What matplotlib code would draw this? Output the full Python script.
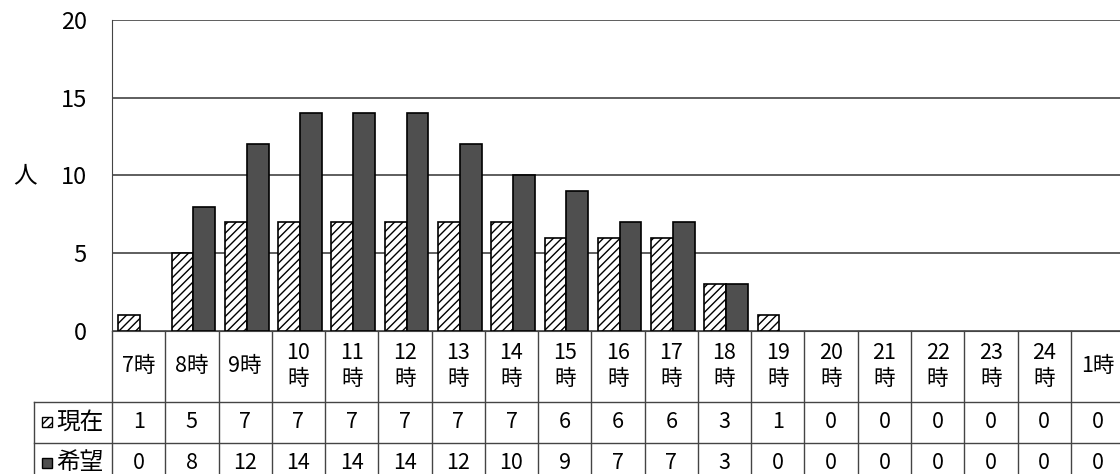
import numpy as np
import matplotlib
matplotlib.use("Agg")
import matplotlib.pyplot as plt
from matplotlib.patches import Rectangle

plt.rcParams['font.family'] = ['Noto Sans CJK JP', 'DejaVu Sans']

# data
hours = ['7時', '8時', '9時', '10\n時', '11\n時', '12\n時', '13\n時', '14\n時', '15\n時',
         '16\n時', '17\n時', '18\n時', '19\n時', '20\n時', '21\n時', '22\n時', '23\n時',
         '24\n時', '1時']
genzai = [1, 5, 7, 7, 7, 7, 7, 7, 6, 6, 6, 3, 1, 0, 0, 0, 0, 0, 0]
kibou = [0, 8, 12, 14, 14, 14, 12, 10, 9, 7, 7, 3, 0, 0, 0, 0, 0, 0, 0]
series_names = ['現在', '希望']
yticks = [0, 5, 10, 15, 20]

fig = plt.figure(figsize=(11.2, 4.74), dpi=100)
ax = fig.add_axes([0.1, 0.3017, 0.9036, 0.6561])

x = np.arange(len(hours))
w = 0.41
shift = 0.03

# zero-height bars get no edge, so nothing shows on the baseline
edges_g = ['black' if v > 0 else 'none' for v in genzai]
edges_k = ['black' if v > 0 else 'none' for v in kibou]
ax.bar(x - w / 2 + shift, genzai, width=w, facecolor='white', edgecolor=edges_g,
       hatch='////', linewidth=1.2, zorder=3)
ax.bar(x + w / 2 + shift, kibou, width=w, facecolor='#4f4f4f', edgecolor=edges_k,
       linewidth=1.2, zorder=3)

ax.set_xlim(-0.5, len(hours) - 0.5)
ax.set_ylim(0, 20)
ax.set_yticks(yticks)
ax.set_xticks([])
ax.yaxis.grid(True, color='#333333', linewidth=1.1)
ax.set_axisbelow(True)
ax.tick_params(axis='y', length=0, pad=18, labelsize=17)

for side in ['top', 'right']:
    ax.spines[side].set_visible(False)
ax.spines['left'].set_color('#444444')
ax.spines['bottom'].set_color('#444444')

ax.set_ylabel('人', rotation=0, fontsize=17, va='center', ha='center')
ax.yaxis.set_label_coords(-0.086, 0.498)

# data table under the plot
blend = ax.get_xaxis_transform()
y_head = -0.228
y_row1 = -0.360
y_bottom = -0.62
lab_left = -0.077
line_kw = dict(color='#444444', linewidth=1.0, clip_on=False)

for i in range(len(hours) + 1):
    ax.plot([i - 0.5, i - 0.5], [0, y_bottom], transform=blend, **line_kw)
ax.plot([lab_left, 1.1], [y_head, y_head], transform=ax.transAxes, **line_kw)
ax.plot([lab_left, 1.1], [y_row1, y_row1], transform=ax.transAxes, **line_kw)
ax.plot([lab_left, lab_left], [y_head, y_bottom], transform=ax.transAxes, **line_kw)

for i, h in enumerate(hours):
    ax.text(i, -0.113, h, transform=blend, ha='center', va='center', fontsize=15.5,
            linespacing=1.2)
    ax.text(i, -0.294, str(genzai[i]), transform=blend, ha='center', va='center', fontsize=15.5)
    ax.text(i, -0.424, str(kibou[i]), transform=blend, ha='center', va='center', fontsize=15.5)

# row labels with small legend keys
bw, bh = 10 / 1012, 10 / 311
for yc, name, fc, hatch in [(-0.294, series_names[0], 'white', '////'),
                            (-0.424, series_names[1], '#4f4f4f', None)]:
    ax.add_patch(Rectangle((-0.069, yc - bh / 2), bw, bh, transform=ax.transAxes,
                           facecolor=fc, edgecolor='black', hatch=hatch, linewidth=1.0,
                           clip_on=False))
    ax.text(-0.055, yc, name, transform=ax.transAxes, ha='left', va='center', fontsize=17)

fig.savefig('out.png', dpi=100)
